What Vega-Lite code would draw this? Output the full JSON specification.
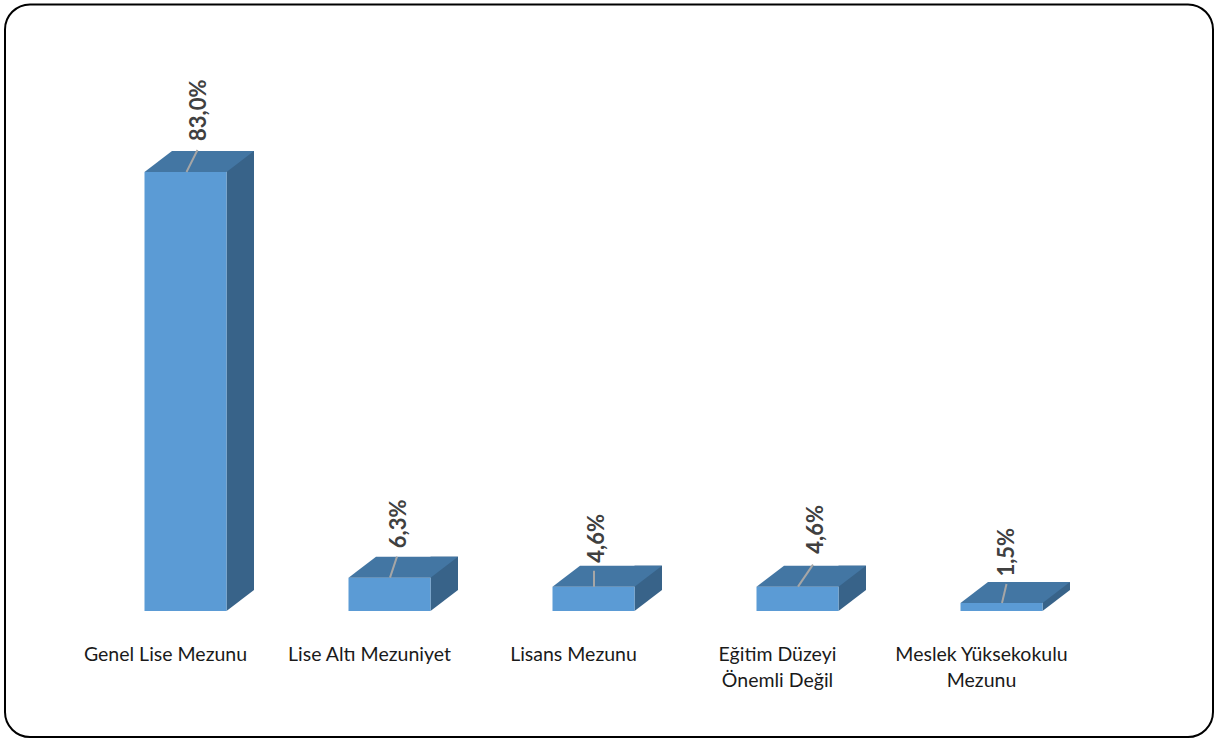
{
"$schema":"https://vega.github.io/schema/vega-lite/v6.json",
"width":1208,"height":732.5,
"autosize":{"type":"none"},
"padding":{"left":5,"top":4.5,"right":2,"bottom":1},
"background":"white",
"config":{"view":{"stroke":"#000000","strokeWidth":2,"cornerRadius":25,"fill":"white"}},
"data":{"values":[
{"kategori":"Genel Lise Mezunu","oran":83.0,"etiket":"83,0%"},
{"kategori":"Lise Altı Mezuniyet","oran":6.3,"etiket":"6,3%"},
{"kategori":"Lisans Mezunu","oran":4.6,"etiket":"4,6%"},
{"kategori":"Eğitim Düzeyi\nÖnemli Değil","oran":4.6,"etiket":"4,6%"},
{"kategori":"Meslek Yüksekokulu\nMezunu","oran":1.5,"etiket":"1,5%"}
]},
"encoding":{
"x":{"field":"kategori","type":"nominal","sort":null,
"scale":{"type":"band","range":[78.5,1098.5],"padding":0},
"axis":{"title":null,"domain":false,"ticks":false,"grid":false,"labelAngle":0,"labelFont":"Lato","labelFontSize":19.5,"labelColor":"#1a1a1a","labelLineHeight":26,"labelPadding":0,"offset":-92,"labelOffset":-20,"labelBaseline":"top","labelExpr":"split(datum.label,'\\n')","labelOverlap":false}},
"y":{"field":"oran","type":"quantitative","scale":{"domain":[0,100],"range":[606.5,77.5],"nice":false,"zero":false},"axis":null}
},
"layer":[
{"mark":{"type":"bar","width":27.5,"xOffset":54.75,"yOffset":-21,"y2Offset":-21,"color":"#386389"},"encoding":{"y2":{"datum":0}}},
{"mark":{"type":"point","filled":true,"opacity":1,"size":4,"color":"#386389","shape":"M41,0 L68.5,-21 L41,-21 Z"},"encoding":{"y":{"datum":0}}},
{"mark":{"type":"bar","width":82,"color":"#5b9bd5"},"encoding":{"y2":{"datum":0}}},
{"mark":{"type":"point","filled":true,"opacity":1,"size":4,"color":"#4376a3","shape":"M-41,0 L41,0 L68.5,-21 L-13.5,-21 Z"}},
{"mark":{"type":"point","filled":false,"opacity":1,"size":4,"stroke":"#a6a6a6","strokeWidth":2},
"encoding":{"shape":{"field":"kategori","type":"nominal","sort":null,"legend":null,"scale":{"range":["M1,0 L12,-22","M0.5,0 L7.5,-21","M0.5,0 L0.5,-16","M0.5,0 L15.5,-22","M0.5,0 L5,-19"]}}}},
{"transform":[{"filter":"datum.etiket=='83,0%'"}],"mark":{"type":"text","font":"Lato","fontWeight":"bold","fontSize":22,"color":"#404040","angle":270,"align":"left","baseline":"middle","xOffset":13,"yOffset":-31},"encoding":{"text":{"field":"etiket"}}},
{"transform":[{"filter":"datum.etiket=='6,3%'"}],"mark":{"type":"text","font":"Lato","fontWeight":"bold","fontSize":22,"color":"#404040","angle":270,"align":"left","baseline":"middle","xOffset":9.5,"yOffset":-29.5},"encoding":{"text":{"field":"etiket"}}},
{"transform":[{"filter":"datum.kategori=='Lisans Mezunu'"}],"mark":{"type":"text","font":"Lato","fontWeight":"bold","fontSize":22,"color":"#404040","angle":270,"align":"left","baseline":"middle","xOffset":3,"yOffset":-24},"encoding":{"text":{"field":"etiket"}}},
{"transform":[{"filter":"indexof(datum.kategori,'Eğitim')==0"}],"mark":{"type":"text","font":"Lato","fontWeight":"bold","fontSize":22,"color":"#404040","angle":270,"align":"left","baseline":"middle","xOffset":18,"yOffset":-33},"encoding":{"text":{"field":"etiket"}}},
{"transform":[{"filter":"datum.etiket=='1,5%'"}],"mark":{"type":"text","font":"Lato","fontWeight":"bold","fontSize":22,"color":"#404040","angle":270,"align":"left","baseline":"middle","xOffset":5.5,"yOffset":-26.5},"encoding":{"text":{"field":"etiket"}}}
]
}
